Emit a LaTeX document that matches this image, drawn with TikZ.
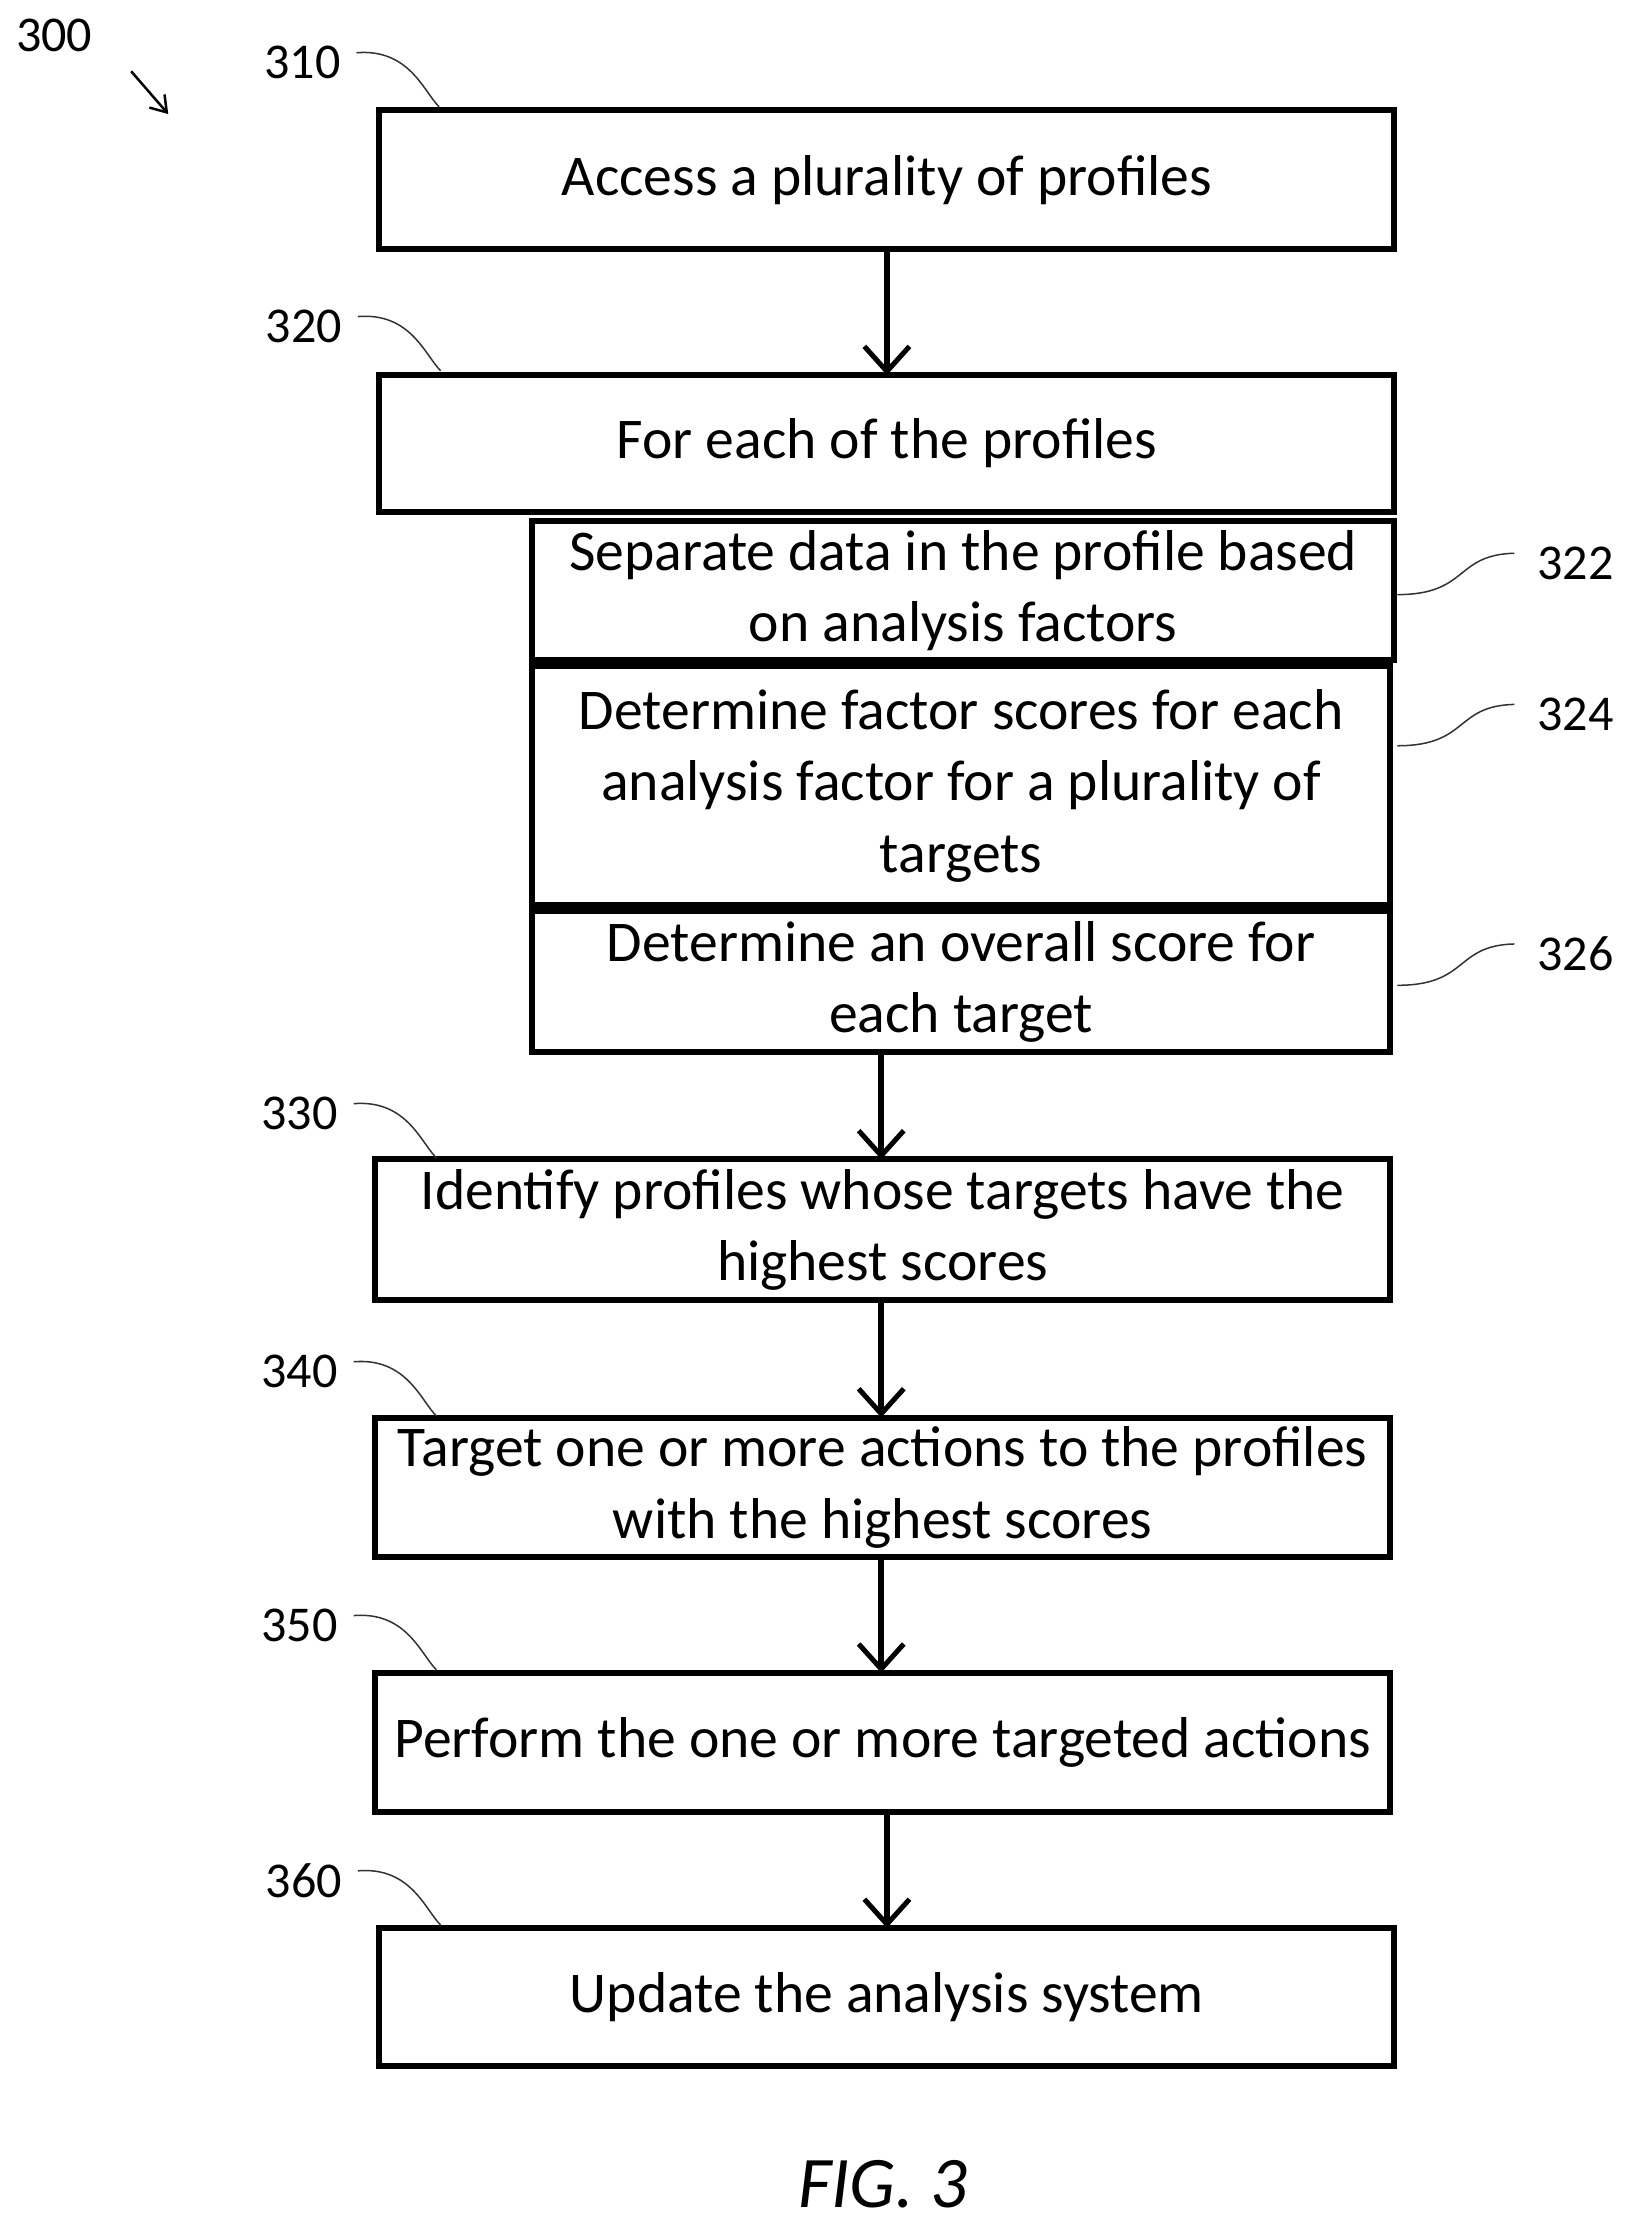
\documentclass[tikz,border=0pt]{standalone}
\usepackage{fontspec}
\setmainfont{Carlito}
\usetikzlibrary{arrows.meta}
\begin{document}
\begin{tikzpicture}[x=0.02cm,y=-0.02cm,
  box/.style={draw,line width=2.4pt,align=center,inner sep=0pt,outer sep=0pt,font=\fontsize{23}{28.5}\selectfont},
  arr/.style={line width=2.4pt,-{Straight Barb[length=10pt,width=18pt,line width=2pt]}},
  lead/.style={line width=0.6pt,draw=black!80},
  lab/.style={font=\fontsize{20}{24}\selectfont}]
\useasboundingbox (0,0) rectangle (1140,1559);
\def\bx#1#2#3#4#5#6{\node[box,minimum width={(#3-#2)*0.02cm-2.4pt},minimum height={(#5-#4)*0.02cm-2.4pt},anchor=center] (#1) at ({(#2+#3)/2},{(#4+#5)/2}) {#6};}
\bx{b310}{264}{980}{75}{177}{Access a plurality of profiles}
\bx{b320}{264}{980}{261}{361}{For each of the profiles}
\bx{b322}{371}{980}{363}{465}{Separate data in the profile based\\on analysis factors}
\bx{b324}{371}{977}{465}{637}{Determine factor scores for each\\analysis factor for a plurality of\\targets}
\bx{b326}{371}{977}{637}{740}{Determine an overall score for\\each target}
\bx{b330}{261}{977}{811}{914}{Identify profiles whose targets have the\\highest scores}
\bx{b340}{261}{977}{992}{1094}{Target one or more actions to the profiles\\with the highest scores}
\bx{b350}{261}{977}{1171}{1273}{Perform the one or more targeted actions}
\bx{b360}{264}{980}{1350}{1451}{Update the analysis system}
\draw[arr] (b310.south) -- (b320.north);
\draw[arr] (b326.south -| 618,0) -- (b330.north -| 618,0);
\draw[arr] (b330.south -| 618,0) -- (b340.north -| 618,0);
\draw[arr] (b340.south -| 618,0) -- (b350.north -| 618,0);
\draw[arr] (b350.south -| 622,0) -- (b360.north -| 622,0);
% labels
\node[lab] (l300) at (38,25) {300};
\coordinate (a1) at (92,50); \coordinate (a2) at (118,80);
\draw[line width=1pt,-{Straight Barb[length=6pt,width=8pt]}] (a1) -- (a2);
\foreach \n/\x/\y/\t in {l310/212/44/310,l320/213/229/320,l330/210/781/330,l340/210/962/340,l350/210/1140/350,l360/213/1319/360}{
  \node[lab] (\n) at (\x,\y) {\t};
  \draw[lead] (\x+38,\y-7) .. controls (\x+75,\y-10) and (\x+85,\y+20) .. (\x+96,\y+31);
}
\foreach \n/\y/\t in {l322/395/322,l324/501/324,l326/669/326}{
  \node[lab] (\n) at (1105,\y) {\t};
  \draw[lead] (980,\y+22) .. controls (1030,\y+22) and (1020,\y-6) .. (1062,\y-7);
}
\node[font=\itshape\fontsize{29}{34}\selectfont] (fig) at (619,1532) {FIG. 3};
\end{tikzpicture}
\end{document}
